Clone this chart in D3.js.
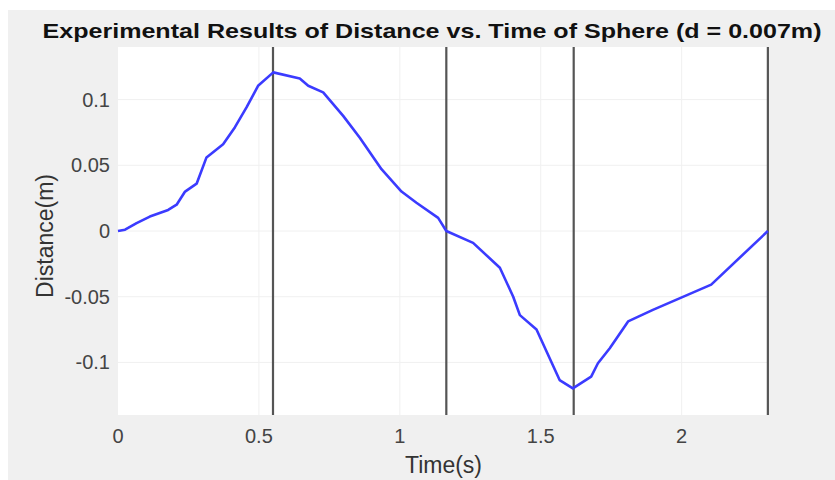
<!DOCTYPE html>
<html>
<head lang="en">
    <meta charset="UTF-8">
    <title></title>
    <script src="https://cdn.jsdelivr.net/npm/d3@7/dist/d3.min.js" charset="UTF-8"></script>
    <style>
        body{margin:0;background:#fff;}
        text{font-family:"Liberation Sans",Arial,sans-serif;}
    </style>
</head>
<body>
<script>
    // time (s) and distance (m)
    var time=[0,0.025,0.066,0.113,0.178,0.208,0.238,0.279,0.314,0.373,0.415,0.456,0.497,0.551,
        0.645,0.675,0.728,0.799,0.858,0.935,1.006,1.059,1.136,1.165,1.26,1.355,1.402,1.426,1.485,
        1.567,1.614,1.679,1.703,1.745,1.81,1.898,2.105,2.306];
    var distance=[0,0.001,0.006,0.011,0.016,0.020,0.030,0.036,0.056,0.066,0.079,0.094,0.1105,0.1207,
        0.116,0.1105,0.1055,0.0876,0.071,0.047,0.030,0.0215,0.010,0,-0.009,-0.028,-0.0498,-0.064,-0.075,
        -0.1134,-0.1197,-0.1108,-0.1006,-0.0892,-0.0688,-0.060,-0.0408,0];
    // vertical marker lines
    var markers=[0.55,1.165,1.617,2.306];
    var xTicks=[0,0.5,1,1.5,2];
    var yTicks=[-0.1,-0.05,0,0.05,0.1];

    var W=835,H=480;
    var pL=118,pR=769,pT=47,pB=415;

    var svg=d3.select("body").append("svg")
            .attr("width",W).attr("height",H);

    svg.append("rect").attr("x",8).attr("y",10)
            .attr("width",W-8).attr("height",H-10)
            .style("fill","#f0f0f0");

    var x=d3.scaleLinear().domain([0,2.31]).range([pL,pR]);
    var y=d3.scaleLinear().domain([-0.14,0.14]).range([pB,pT]);

    svg.append("rect").attr("x",pL).attr("y",pT)
            .attr("width",pR-pL).attr("height",pB-pT)
            .style("fill","#fff");

    // grid
    svg.selectAll("line.gx").data(xTicks.slice(1)).enter().append("line")
            .attr("class","gx")
            .attr("x1",function(d){return x(d);}).attr("x2",function(d){return x(d);})
            .attr("y1",pT).attr("y2",pB)
            .style("stroke","#f0f0f0").style("stroke-width",1);
    svg.selectAll("line.gy").data(yTicks).enter().append("line")
            .attr("class","gy")
            .attr("x1",pL).attr("x2",pR)
            .attr("y1",function(d){return y(d);}).attr("y2",function(d){return y(d);})
            .style("stroke","#f0f0f0").style("stroke-width",1);

    // tick labels
    svg.selectAll("text.xt").data(xTicks).enter().append("text")
            .attr("class","xt")
            .attr("x",function(d){return x(d);}).attr("y",443)
            .attr("text-anchor","middle")
            .style("font-size","20px").style("fill","#444")
            .text(function(d){return d;});
    svg.selectAll("text.yt").data(yTicks).enter().append("text")
            .attr("class","yt")
            .attr("x",110).attr("y",function(d){return y(d)+7;})
            .attr("text-anchor","end")
            .style("font-size","20px").style("fill","#444")
            .text(function(d){return d;});

    // markers
    svg.selectAll("line.mk").data(markers).enter().append("line")
            .attr("class","mk")
            .attr("x1",function(d){return x(d);}).attr("x2",function(d){return x(d);})
            .attr("y1",pT).attr("y2",pB)
            .style("stroke","#555").style("stroke-width",2.2);

    var pts=time.map(function(t,i){return [t,distance[i]];});
    var line=d3.line().x(function(d){return x(d[0]);}).y(function(d){return y(d[1]);});
    svg.append("path").datum(pts).attr("d",line)
            .style("fill","none").style("stroke","#3b3bff")
            .style("stroke-width",2.6).style("stroke-linejoin","round");

    // titles
    svg.append("text").attr("x",432).attr("y",38)
            .attr("text-anchor","middle")
            .attr("textLength",779).attr("lengthAdjust","spacingAndGlyphs")
            .style("font-size","21px").style("font-weight","bold").style("fill","#111")
            .text("Experimental Results of Distance vs. Time of Sphere (d = 0.007m)");
    svg.append("text").attr("x",(pL+pR)/2).attr("y",473)
            .attr("text-anchor","middle")
            .style("font-size","23px").style("fill","#333")
            .text("Time(s)");
    svg.append("text")
            .attr("transform","translate(53,236) rotate(-90)")
            .attr("text-anchor","middle")
            .style("font-size","23px").style("fill","#333")
            .text("Distance(m)");
</script>
</body>
</html>
